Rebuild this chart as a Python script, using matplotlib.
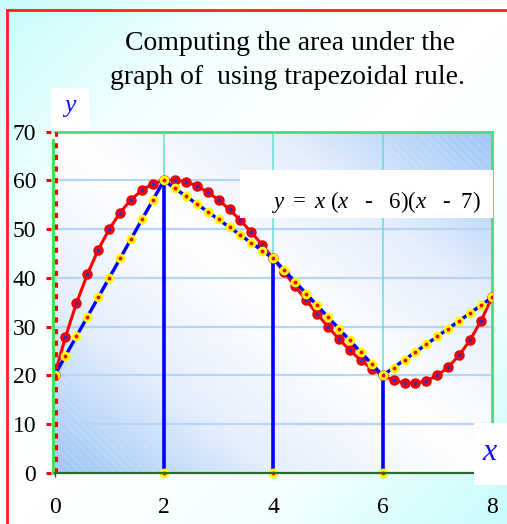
import numpy as np
import matplotlib
matplotlib.use("Agg")
import matplotlib.pyplot as plt
import matplotlib.transforms as mtransforms
from matplotlib.colors import LinearSegmentedColormap
from matplotlib.patches import Rectangle

plt.rcParams['font.family'] = ['Liberation Serif', 'DejaVu Serif']
plt.rcParams['mathtext.fontset'] = 'custom'
plt.rcParams['mathtext.rm'] = 'Liberation Serif'
plt.rcParams['mathtext.it'] = 'Liberation Serif:italic'
plt.rcParams['hatch.linewidth'] = 0.6

# curve sampled every 0.2
curve_x = [0.0, 0.2, 0.4, 0.6, 0.8, 1.0, 1.2, 1.4, 1.6, 1.8, 2.0,
           2.2, 2.4, 2.6, 2.8, 3.0, 3.2, 3.4, 3.6, 3.8, 4.0,
           4.2, 4.4, 4.6, 4.8, 5.0, 5.2, 5.4, 5.6, 5.8, 6.0,
           6.2, 6.4, 6.6, 6.8, 7.0, 7.2, 7.4, 7.6, 7.8, 8.0]
curve_y = [20.0, 27.888, 34.784, 40.736, 45.792, 50.0, 53.408, 56.064, 58.016, 59.312, 60.0,
           60.128, 59.744, 58.896, 57.632, 56.0, 54.048, 51.824, 49.376, 46.752, 44.0,
           41.168, 38.304, 35.456, 32.672, 30.0, 27.488, 25.184, 23.136, 21.392, 20.0,
           19.008, 18.464, 18.416, 18.912, 20.0, 21.728, 24.144, 27.296, 31.232, 36.0]
# trapezoid edges, same x sampling
trap_y = [20, 24, 28, 32, 36, 40, 44, 48, 52, 56, 60,
          58.4, 56.8, 55.2, 53.6, 52, 50.4, 48.8, 47.2, 45.6, 44,
          41.6, 39.2, 36.8, 34.4, 32, 29.6, 27.2, 24.8, 22.4, 20,
          21.6, 23.2, 24.8, 26.4, 28, 29.6, 31.2, 32.8, 34.4, 36]
node_x = [2, 4, 6]
node_y = [60, 44, 20]

xticks = [0, 2, 4, 6, 8]
yticks = [0, 10, 20, 30, 40, 50, 60, 70]

W, H = 507, 524
fig = plt.figure(figsize=(W / 100, H / 100), dpi=100)

# figure background (cyan -> white -> cyan along the diagonal)
bg = fig.add_axes([0, 0, 1, 1])
bg.set_xlim(0, W)
bg.set_ylim(H, 0)
bg.axis('off')
gx, gy = np.meshgrid(np.linspace(0, 1, 200), np.linspace(0, 1, 200))
t = np.abs((gx + gy) / 2 - 0.5) * 2
cm_bg = LinearSegmentedColormap.from_list('bg', ['#ffffff', '#f4ffff', '#c8fcfc'])
bg.imshow(t, cmap=cm_bg, extent=(0, W, H, 0), aspect='auto', zorder=0)
bg.plot([7, W], [10, 10], color='#ff2020', lw=2, zorder=1)
bg.plot([7, 7], [10, H], color='#ff2020', lw=2, zorder=1)

# main axes
ax = fig.add_axes([54.5 / W, 1 - 473 / H, 437.5 / W, 341.3 / H])
ax.set_facecolor('none')
ax.set_xlim(0, 8)
ax.set_ylim(0, 70)

# plot area gradient (blue at lower-left and upper-right)
s = np.abs((gx + (1 - gy)) / 2 - 0.5) * 2
cm_pa = LinearSegmentedColormap.from_list('pa', ['#ffffff', '#e4eefc', '#9cc6f6'])
ax.imshow(s, cmap=cm_pa, extent=(0, 8, 0, 70), aspect='auto', zorder=0, origin='upper')
ax.add_patch(Rectangle((0, 0), 8, 70, facecolor='none', edgecolor='white',
                       hatch='\\\\\\\\', lw=0, alpha=0.2, zorder=0.5))

for yv in yticks[1:-1]:
    ax.axhline(yv, color='#b8d4f4', lw=1.6, zorder=1)
for xv in [2, 4, 6]:
    ax.axvline(xv, color='#66dcdc', lw=1.1, zorder=1)

# trapezoid verticals
ax.vlines(node_x, 0, node_y, color='#0000ff', lw=2.6, zorder=2)

# curve
ax.plot(curve_x, curve_y, color='#ff0000', lw=2.2, zorder=3)
ax.plot(curve_x, curve_y, 'o', ms=6.5, mfc='#ff0000', mec='#e00000', zorder=4)
ax.plot(curve_x, curve_y, 'o', ms=1.8, mfc='#3030c0', mec='#3030c0', zorder=4.1)

# trapezoid top edges
ax.plot(curve_x, trap_y, color='#0000ff', lw=2.4, zorder=5)
ax.plot(curve_x, trap_y, 'o', ms=6, mfc='#ffff00', mec='#ffff00', zorder=6)
ax.plot(curve_x, trap_y, 'o', ms=1.8, mfc='#ff0000', mec='#ff0000', zorder=6.1)
ax.plot(node_x, [0, 0, 0], 'o', ms=6, mfc='#ffff00', mec='#ffff00', zorder=6, clip_on=False)
ax.plot(node_x, [0, 0, 0], 'o', ms=1.8, mfc='#ff0000', mec='#ff0000', zorder=6.1, clip_on=False)

# left green line and red dashed axis
trans_l = mtransforms.offset_copy(ax.transData, fig=fig, x=-1.2, y=0, units='dots')
trans_r = mtransforms.offset_copy(ax.transData, fig=fig, x=1.2, y=0, units='dots')
ax.plot([0, 0], [0, 68.4], color='#40e040', lw=2, transform=trans_l, zorder=7, clip_on=False)
ax.plot([0, 0], [0, 70], color='#ff0000', lw=2.2, ls=(0, (1.7, 2.1)), transform=trans_r,
        zorder=8, clip_on=False)

# spines
ax.spines['top'].set_color('#40e080')
ax.spines['top'].set_linewidth(2)
ax.spines['right'].set_color('#40e080')
ax.spines['right'].set_linewidth(2)
ax.spines['bottom'].set_color('#2a6a2a')
ax.spines['bottom'].set_linewidth(1.6)
ax.spines['bottom'].set_zorder(9)
ax.spines['left'].set_position(('outward', 2.5))
ax.spines['left'].set_visible(False)

ax.set_xticks(xticks)
ax.set_yticks(yticks)
ax.tick_params(axis='y', color='#ff0000', length=3.6, width=2.2, pad=7, labelsize=17)
ax.tick_params(axis='x', color='#404040', length=3, width=1, pad=14, labelsize=17)

# overlay for boxes and texts
ov = fig.add_axes([0, 0, 1, 1])
ov.set_xlim(0, W)
ov.set_ylim(H, 0)
ov.axis('off')
ov.set_facecolor('none')
ov.add_patch(Rectangle((51, 88), 38, 43, facecolor='white', edgecolor='none'))
ov.add_patch(Rectangle((474, 423), 33, 62, facecolor='white', edgecolor='none'))
ov.add_patch(Rectangle((240, 170), 253, 48, facecolor='white', edgecolor='none'))

ov.text(290, 50, 'Computing the area under the', ha='center', va='baseline', fontsize=20)
ov.text(288, 84, 'graph of  using trapezoidal rule.', ha='center', va='baseline', fontsize=20)
ov.text(70, 108, '$y$', ha='center', va='center', fontsize=18.5, color='#1010ff')
ov.text(490, 453, '$x$', ha='center', va='center', fontsize=23, color='#1010ff')
hy = chr(0x2010)
ov.text(376.5, 208, '$y\\ =\\ x\\ (x\\ \\ \\ ' + hy + '\\ \\ \\ 6)(x\\ \\ \\ ' + hy + '\\ \\ 7)$',
        ha='center', va='baseline', fontsize=16.5, color='black')

fig.savefig('out.png', dpi=100)
